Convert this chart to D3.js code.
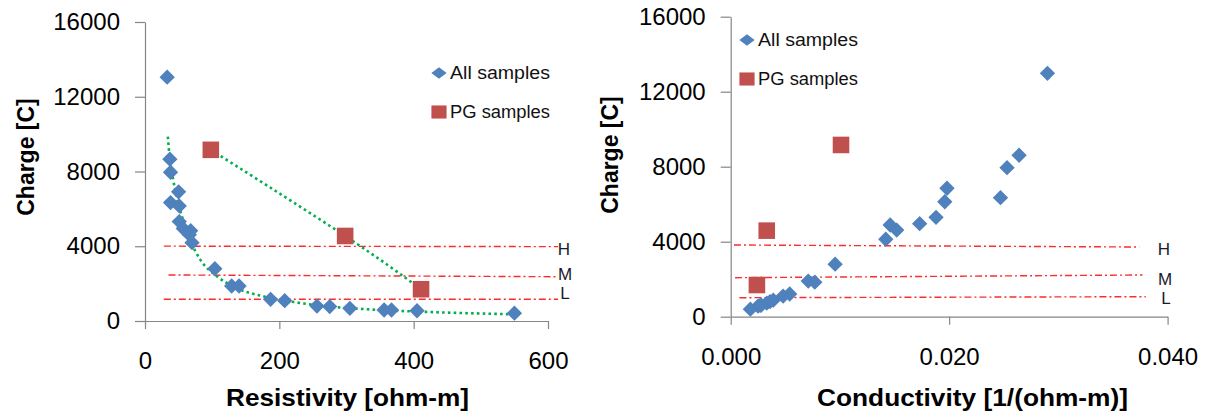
<!DOCTYPE html>
<html><head><meta charset="utf-8">
<script src="https://cdn.jsdelivr.net/npm/d3@7"></script>
<style>
html,body{margin:0;padding:0;background:#fff;}
svg{display:block;}
</style>
</head><body>
<svg id="chart" width="1212" height="416"></svg>
<script>
// ---------- DATA ----------
const allResistivity = [33, 37, 38, 50, 38, 51, 51, 57, 68, 66, 70, 104, 129, 140, 187, 208, 256, 275, 305, 356, 367, 405, 550];
const allChargeLeft  = [13050, 8660, 7960, 6910, 6335, 6160, 5320, 4945, 4835, 4620, 4190, 2800, 1875, 1875, 1160, 1090, 800, 770, 680, 590, 590, 550, 420];
const pgResistivity = [98, 298, 411];
const pgChargeLeft  = [9160, 4550, 1700];

const allConductivity = [0.0290, 0.0264, 0.0253, 0.0198, 0.0196, 0.0247, 0.0188, 0.0173, 0.0146, 0.0152, 0.0142, 0.00956, 0.0071, 0.0077, 0.0054, 0.0048, 0.0039, 0.0036, 0.0033, 0.0028, 0.0027, 0.0025, 0.0018];
const allChargeRight  = [12980, 8610, 7950, 6850, 6130, 6350, 5300, 4960, 4890, 4620, 4130, 2800, 1900, 1840, 1210, 1100, 880, 800, 720, 620, 600, 560, 400];
const pgConductivity = [0.0101, 0.0033, 0.0024];
const pgChargeRight  = [9160, 4590, 1690];

// trend line (All samples, left)
const trendAllRes    = [34, 37, 42, 47, 55, 67, 82, 107, 137, 176, 226, 275, 325, 400, 450, 500, 550];
const trendAllCharge = [9870, 8650, 7550, 6650, 5600, 4350, 3300, 2400, 1750, 1320, 990, 770, 640, 510, 450, 400, 360];

// threshold lines H / M / L: [x0, y0, x1, y1]
const levelLabels = ["H", "M", "L"];
const levelsLeft  = [[28, 4005, 615, 3980], [35, 2463, 615, 2370], [28, 1162, 615, 1160]];
const levelsRight = [[0.0003, 3824, 0.0374, 3717], [0.0004, 2080, 0.0377, 2224], [0.0008, 1013, 0.0380, 1067]];

const yTicks = [0, 4000, 8000, 12000, 16000];
const xTicksLeft = [0, 200, 400, 600];
const xTicksRight = [0, 0.02, 0.04];
const legendNames = ["All samples", "PG samples"];

// ---------- DRAW ----------
const svg = d3.select("#chart");
const BLUE = "#4F81BD", RED = "#C0504D", GREEN = "#00B050", AXIS = "#868686";
const FONT = "'Liberation Sans', Arial, sans-serif";

const diamond = {
  draw(ctx, size) { const r = Math.sqrt(size) / 2; ctx.moveTo(0, -r); ctx.lineTo(r, 0); ctx.lineTo(0, r); ctx.lineTo(-r, 0); ctx.closePath(); }
};
const square = {
  draw(ctx, size) { const r = Math.sqrt(size) / 2; ctx.rect(-r, -r, 2 * r, 2 * r); }
};

function panel(cfg) {
  const g = svg.append("g");
  const x = d3.scaleLinear().domain(cfg.xDomain).range(cfg.xRange);
  const y = d3.scaleLinear().domain([0, 16000]).range(cfg.yRange);

  // axes
  const ya = g.append("g").attr("transform", `translate(${cfg.xRange[0]},0)`)
    .call(d3.axisLeft(y).tickValues(yTicks).tickSize(10).tickSizeOuter(0).tickPadding(15).tickFormat(d3.format("d")));
  const xa = g.append("g").attr("transform", `translate(0,${cfg.yRange[0]})`)
    .call(d3.axisBottom(x).tickValues(cfg.xTicks).tickSize(8).tickSizeOuter(0).tickPadding(cfg.xPad).tickFormat(cfg.xFmt));
  [ya, xa].forEach(a => {
    a.select(".domain").attr("stroke", AXIS).attr("stroke-width", 1.2);
    a.selectAll(".tick line").attr("stroke", AXIS).attr("stroke-width", 1.2);
    a.selectAll("text").attr("font-family", FONT).attr("font-size", 24).attr("fill", "#000");
  });

  // level lines
  g.selectAll(".lvl").data(cfg.levels).join("line")
    .attr("x1", d => x(d[0])).attr("y1", d => y(d[1]))
    .attr("x2", d => x(d[2])).attr("y2", d => y(d[3]))
    .attr("stroke", "#FF2A2A").attr("stroke-width", 1.4)
    .attr("stroke-dasharray", "7 3 2 3");
  g.selectAll(".lvlt").data(levelLabels).join("text")
    .attr("x", (d, i) => cfg.lvlLabelPos[i][0]).attr("y", (d, i) => cfg.lvlLabelPos[i][1])
    .attr("text-anchor", "middle").attr("font-family", FONT).attr("font-size", 17).attr("fill", "#1a1a2e")
    .text(d => d);

  // trend lines
  if (cfg.trends) {
    cfg.trends.forEach(t => {
      const line = d3.line().x(d => x(d[0])).y(d => y(d[1])).curve(t.curve);
      g.append("path").attr("d", line(d3.zip(t.xs, t.ys)))
        .attr("fill", "none").attr("stroke", GREEN).attr("stroke-width", 2.6)
        .attr("stroke-dasharray", "2.6 3.2");
    });
  }

  // points
  g.selectAll(".all").data(d3.zip(cfg.allX, cfg.allY)).join("path")
    .attr("d", d3.symbol(diamond, 235))
    .attr("transform", d => `translate(${x(d[0])},${y(d[1])})`)
    .attr("fill", BLUE);
  g.selectAll(".pg").data(d3.zip(cfg.pgX, cfg.pgY)).join("path")
    .attr("d", d3.symbol(square, 275))
    .attr("transform", d => `translate(${x(d[0])},${y(d[1])})`)
    .attr("fill", RED);

  // legend
  const lg = g.append("g");
  lg.append("path").attr("d", d3.symbol(diamond, 150))
    .attr("transform", `translate(${cfg.legend[0]},${cfg.legend[1]}) scale(1.25,0.95)`).attr("fill", BLUE);
  lg.append("path").attr("d", d3.symbol(square, 190))
    .attr("transform", `translate(${cfg.legend[0]},${cfg.legend[1] + 39}) scale(1.1,0.95)`).attr("fill", RED);
  lg.selectAll("text").data(legendNames).join("text")
    .attr("x", cfg.legend[0] + 11).attr("y", (d, i) => cfg.legend[1] + 6 + i * 39)
    .attr("font-family", FONT).attr("font-size", 17.5).attr("fill", "#111")
    .attr("textLength", 100).attr("lengthAdjust", "spacingAndGlyphs")
    .text(d => d);

  // titles
  g.append("text").attr("x", cfg.xTitlePos[0]).attr("y", cfg.xTitlePos[1])
    .attr("text-anchor", "middle").attr("font-family", FONT).attr("font-weight", "bold").attr("font-size", 24)
    .attr("textLength", cfg.xTitleLen).attr("lengthAdjust", "spacingAndGlyphs")
    .text(cfg.xTitle);
  g.append("text").attr("transform", `translate(${cfg.yTitlePos[0]},${cfg.yTitlePos[1]}) rotate(-90)`)
    .attr("text-anchor", "middle").attr("font-family", FONT).attr("font-weight", "bold").attr("font-size", 23)
    .text("Charge [C]");
}

panel({
  xDomain: [0, 600], xRange: [145, 548], yRange: [321, 22],
  xTicks: xTicksLeft, xFmt: d3.format("d"), xPad: 23,
  levels: levelsLeft, lvlLabelPos: [[564, 255], [565, 280], [565, 299]],
  trends: [
    { xs: trendAllRes, ys: trendAllCharge, curve: d3.curveMonotoneX },
    { xs: pgResistivity, ys: pgChargeLeft, curve: d3.curveNatural }
  ],
  allX: allResistivity, allY: allChargeLeft, pgX: pgResistivity, pgY: pgChargeLeft,
  legend: [439, 73],
  xTitle: "Resistivity [ohm-m]", xTitlePos: [347.5, 406], xTitleLen: 243, yTitlePos: [34, 157]
});

panel({
  xDomain: [0, 0.04], xRange: [730.7, 1167.6], yRange: [316.7, 16.7],
  xTicks: xTicksRight, xFmt: d3.format(".3f"), xPad: 23,
  levels: levelsRight, lvlLabelPos: [[1164, 255], [1165, 285], [1166, 304]],
  trends: null,
  allX: allConductivity, allY: allChargeRight, pgX: pgConductivity, pgY: pgChargeRight,
  legend: [747, 40],
  xTitle: "Conductivity [1/(ohm-m)]", xTitlePos: [972.5, 406], xTitleLen: 311, yTitlePos: [618, 155]
});
</script>
</body></html>
